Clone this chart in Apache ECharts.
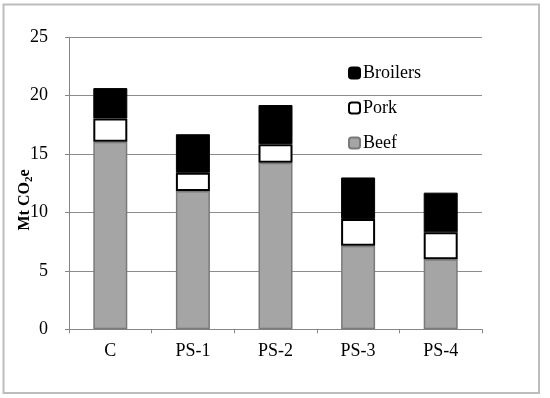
<!DOCTYPE html>
<html>
<head>
<meta charset="utf-8">
<script src="https://cdn.jsdelivr.net/npm/echarts@6/dist/echarts.min.js"></script>
<style>
html,body{margin:0;padding:0;background:#fff;}
#chart{width:550px;height:398px;}
</style>
</head>
<body>
<div id="chart"></div>
<script>
var categories = ['C', 'PS-1', 'PS-2', 'PS-3', 'PS-4'];
var beef = [16.05, 11.85, 14.25, 7.15, 6.0];
var pork = [2.0, 1.55, 1.6, 2.3, 2.3];
var broilers = [2.6, 3.3, 3.35, 3.55, 3.4];
var yTicks = [0, 5, 10, 15, 20, 25];

var FONT = '"Liberation Serif", "Times New Roman", serif';
var chart = echarts.init(document.getElementById('chart'), null, {renderer: 'canvas'});
chart.setOption({
  animation: false,
  backgroundColor: '#fff',
  textStyle: {fontFamily: FONT, color: '#000'},
  grid: {left: 69, right: 68, top: 37.3, bottom: 68.7, containLabel: false},
  graphic: [
    {type: 'rect', shape: {x: 3.5, y: 4.5, width: 535.5, height: 388.5},
     style: {fill: 'none', stroke: '#bdbdbd', lineWidth: 2}, silent: true},
    {type: 'text', x: 25, y: 200, rotation: Math.PI / 2,
     style: {
       text: '{b|Mt CO}{s|2}{b|e}',
       align: 'center', verticalAlign: 'middle',
       rich: {
         b: {fontFamily: FONT, fontWeight: 'bold', fontSize: 16, lineHeight: 20, fill: '#000'},
         s: {fontFamily: FONT, fontWeight: 'bold', fontSize: 11, lineHeight: 11, verticalAlign: 'bottom', fill: '#000'}
       }
     }}
  ],
  legend: {
    orient: 'vertical',
    left: 348, top: 64, padding: 0,
    itemWidth: 11, itemHeight: 11, itemGap: 17,
    data: ['Broilers', 'Pork', 'Beef'],
    textStyle: {fontFamily: FONT, fontSize: 18, color: '#000', lineHeight: 18, padding: [0,0,0,-2]}
  },
  xAxis: {
    type: 'category',
    data: categories,
    axisLine: {lineStyle: {color: '#868686', width: 1}},
    axisTick: {show: true, length: 4, lineStyle: {color: '#868686'}},
    axisLabel: {fontFamily: FONT, fontSize: 18, color: '#000', margin: 13}
  },
  yAxis: {
    type: 'value',
    min: yTicks[0], max: yTicks[yTicks.length - 1], interval: 5,
    axisLine: {show: true, lineStyle: {color: '#868686', width: 1}},
    axisTick: {show: true, length: 4, lineStyle: {color: '#868686'}},
    axisLabel: {fontFamily: FONT, fontSize: 18, color: '#000', margin: 21},
    splitLine: {show: true, lineStyle: {color: '#8c8c8c', width: 1}}
  },
  series: [
    {name: 'Beef', type: 'bar', stack: 'total', data: beef, barWidth: 34,
     itemStyle: {color: '#a5a5a5', borderColor: '#7a7a7a', borderWidth: 1.5}},
    {name: 'Pork', type: 'bar', stack: 'total', data: pork, barWidth: 34,
     itemStyle: {color: '#ffffff', borderColor: '#000000', borderWidth: 2}},
    {name: 'Broilers', type: 'bar', stack: 'total', data: broilers, barWidth: 34,
     itemStyle: {color: '#000000', borderColor: '#000000', borderWidth: 1}}
  ]
});
</script>
</body>
</html>
